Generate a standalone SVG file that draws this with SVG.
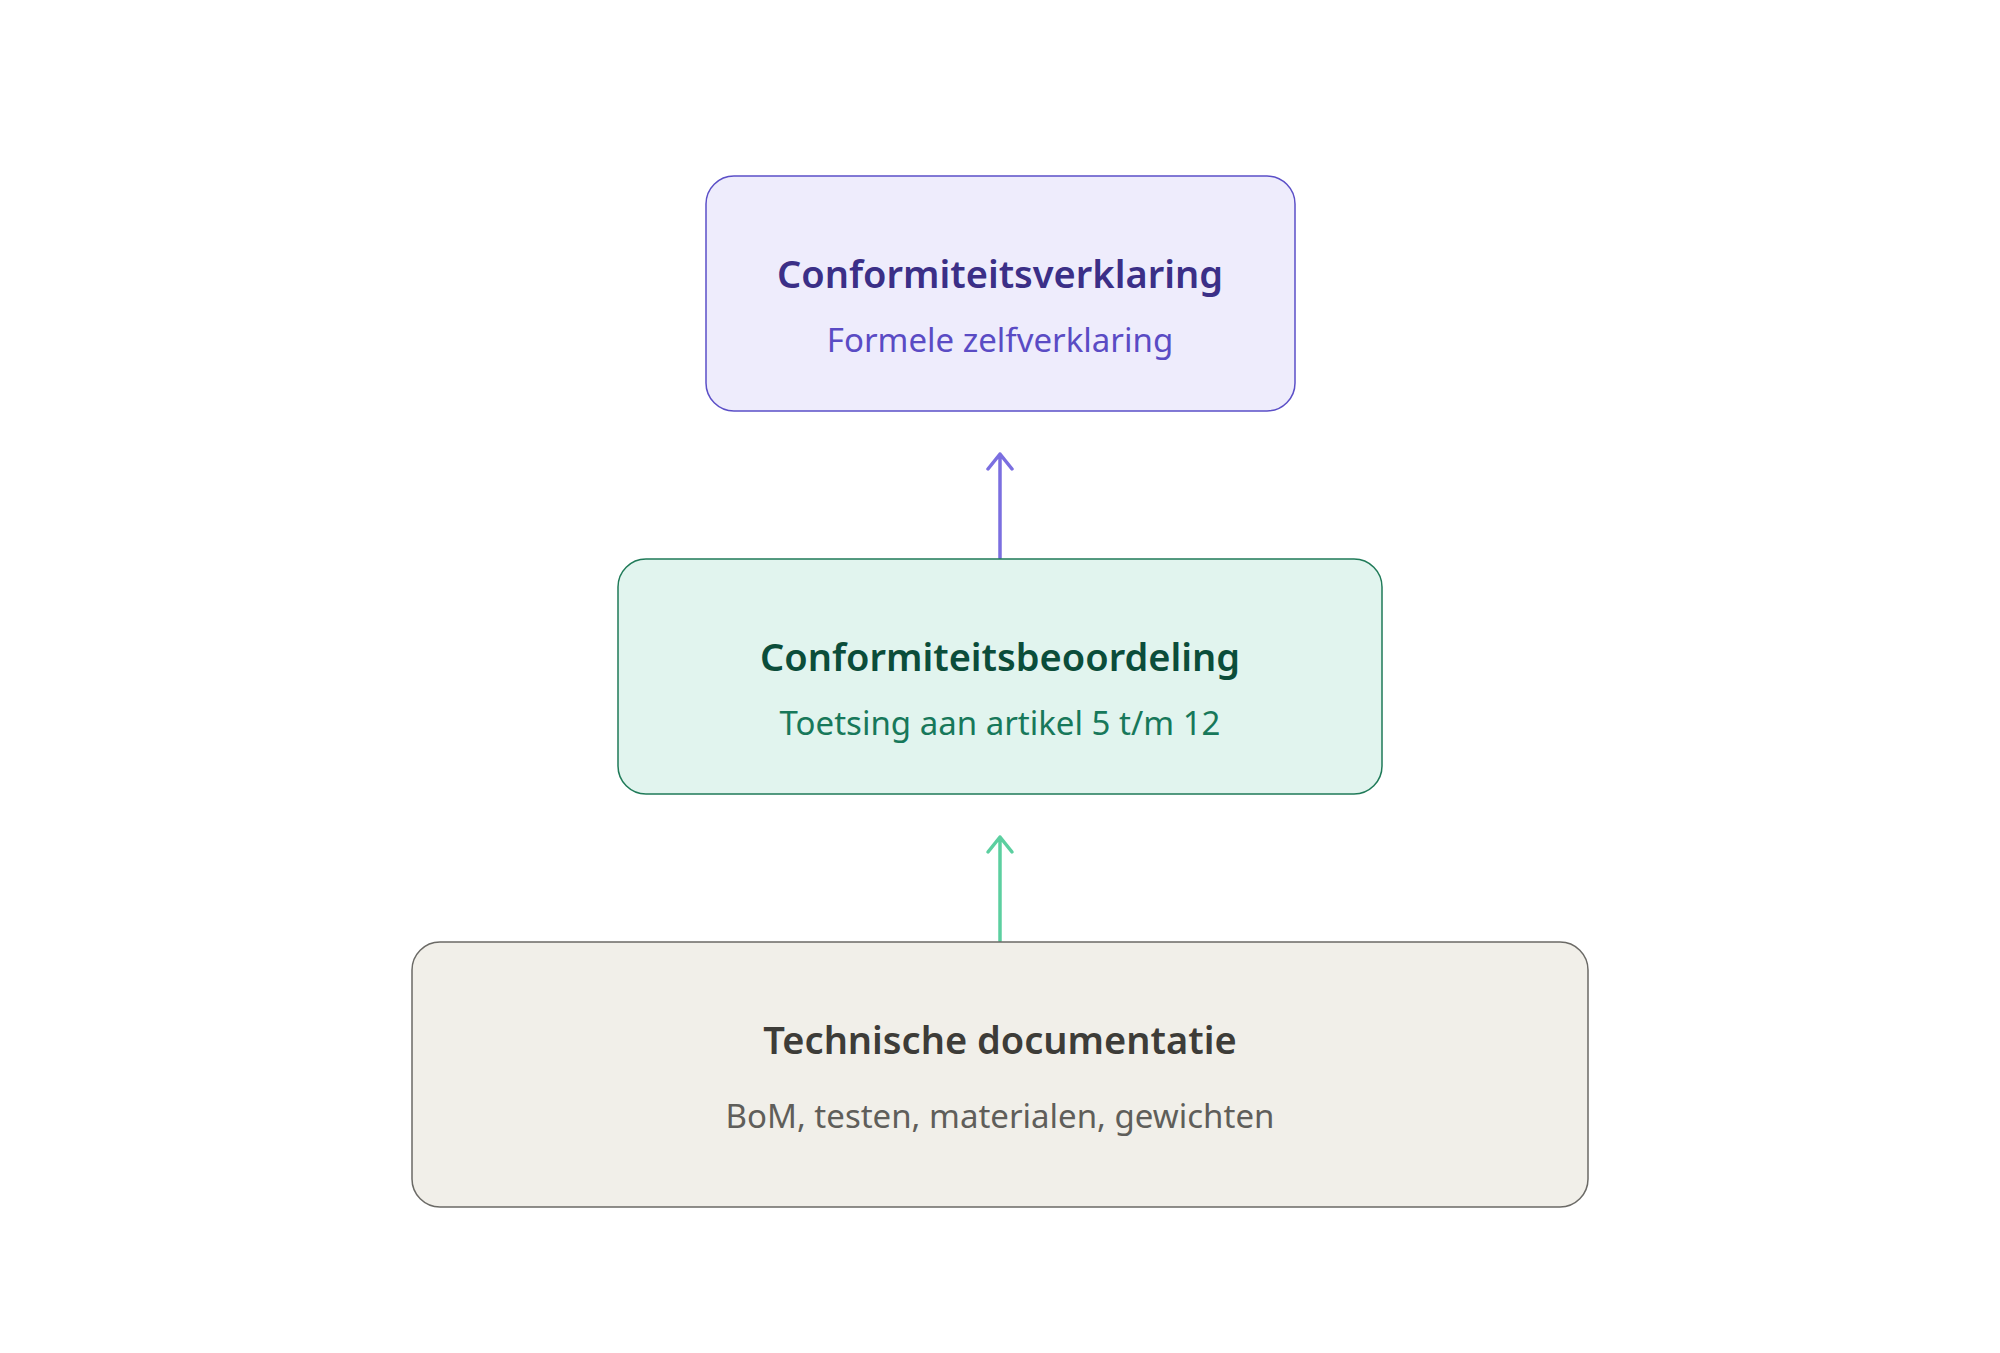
<svg xmlns="http://www.w3.org/2000/svg" width="2000" height="1353" viewBox="0 0 2000 1353">
<style>
.t{font-family:"Noto Sans","Open Sans","Liberation Sans",sans-serif;font-weight:600;font-size:38px;text-anchor:middle}
.s{font-family:"Noto Sans","Open Sans","Liberation Sans",sans-serif;font-size:33px;text-anchor:middle}
.box{stroke-width:1.5}
.c{fill:none;stroke-width:3.5;stroke-linecap:round;stroke-linejoin:round}
</style>
<rect width="2000" height="1353" fill="#ffffff"/>
<g id="connectors">
<path class="c" stroke="#7b6fe0" d="M1000 558 V454 M988 469 L1000 454 L1012 469"/>
<path class="c" stroke="#5ccfa0" d="M1000 941 V837 M988 852 L1000 837 L1012 852"/>
</g>
<g id="conformiteitsverklaring">
<rect class="box" x="706" y="176" width="589" height="235" rx="28" fill="#eeecfc" stroke="#5b4fc7"/>
<text class="t" x="1000" y="288" fill="#3b2f87">Conformiteitsverklaring</text>
<text class="s" x="1000" y="352" fill="#5a4bc4">Formele zelfverklaring</text>
</g>
<g id="conformiteitsbeoordeling">
<rect class="box" x="618" y="559" width="764" height="235" rx="28" fill="#e1f4ee" stroke="#1f7a58"/>
<text class="t" x="1000" y="671" fill="#0b4d3a">Conformiteitsbeoordeling</text>
<text class="s" x="1000" y="735" fill="#17785a">Toetsing aan artikel 5 t/m 12</text>
</g>
<g id="technische-documentatie">
<rect class="box" x="412" y="942" width="1176" height="265" rx="28" fill="#f1efe9" stroke="#6b6a66"/>
<text class="t" x="1000" y="1054" fill="#3d3c38">Technische documentatie</text>
<text class="s" x="1000" y="1128" fill="#5f5e5a">BoM, testen, materialen, gewichten</text>
</g>
</svg>
